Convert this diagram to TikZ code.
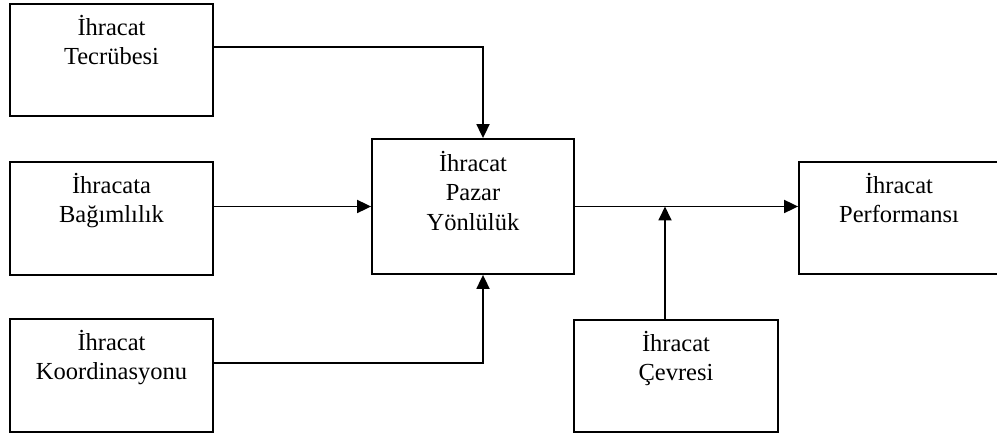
\documentclass[tikz,border=0pt]{standalone}
\usepackage{fontspec}
\setmainfont{Liberation Serif}
\usetikzlibrary{arrows.meta,calc}

\tikzset{
  box/.style={draw, line width=1.8pt, rectangle, minimum width=203pt, minimum height=112pt, inner sep=0pt},
  lbl/.style={anchor=base, inner sep=0pt, font=\fontsize{24.5}{29.5}\selectfont},
  arr/.style={line width=1.8pt, -{Triangle[length=14pt,width=13pt]}},
}
\newcommand{\lines}[1]{\begin{tabular}[t]{@{}c@{}}#1\end{tabular}}

\begin{document}
\begin{tikzpicture}[x=1pt, y=-1pt]
  \useasboundingbox (0,0) rectangle (997,435);

  % boxes
  \node[box] (tec) at (111.5,60) {};
  \node[box, minimum height=113pt] (bag) at (111.5,218.5) {};
  \node[box, minimum height=113pt] (koo) at (111.5,375.5) {};
  \node[box, minimum width=202pt, minimum height=135pt] (paz) at (473,206.5) {};
  \node[box, minimum width=200pt] (per) at (899,218) {};
  \node[box, minimum width=204pt] (cev) at (676,376) {};

  % texts, first baseline about 32pt below each box top
  \node[lbl] (tTec) at ($(tec.north)+(0,32)$) {\lines{İhracat\\Tecrübesi}};
  \node[lbl] (tBag) at ($(bag.north)+(0,32)$) {\lines{İhracata\\Bağımlılık}};
  \node[lbl] (tKoo) at ($(koo.north)+(0,32)$) {\lines{İhracat\\Koordinasyonu}};
  \node[lbl] (tPaz) at ($(paz.north)+(0,33)$) {\lines{İhracat\\Pazar\\Yönlülük}};
  \node[lbl] (tPer) at ($(per.north)+(0,32)$) {\lines{İhracat\\Performansı}};
  \node[lbl] (tCev) at ($(cev.north)+(0,32)$) {\lines{İhracat\\Çevresi}};

  % connectors
  \draw[arr] ($(tec.east)+(0,-13)$) -| ($(paz.north)+(10,0)$);
  \draw[arr] (bag.east |- paz.west) -- (paz.west);
  \draw[arr] ($(koo.east)+(0,-12.5)$) -| ($(paz.south)+(10,0)$);
  \draw[arr] (paz.east) -- (per.west |- paz.east);
  \draw[arr] ($(cev.north)+(-11,0)$) coordinate (cevo) -- (cevo |- paz.east);
\end{tikzpicture}
\end{document}
